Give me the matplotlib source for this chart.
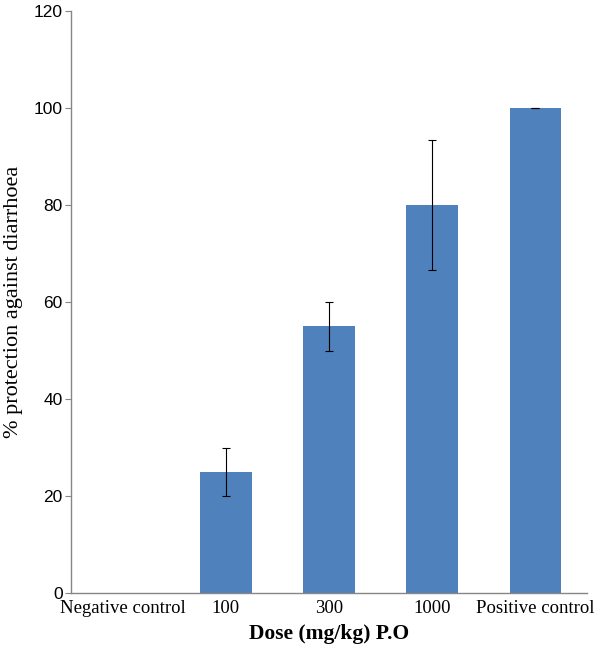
import matplotlib
matplotlib.use("Agg")
import matplotlib.pyplot as plt
import numpy as np

categories = ["Negative control", "100", "300", "1000", "Positive control"]
protection = [0, 25, 55, 80, 100]
err_low = [0, 5, 5, 13.3, 0]
err_high = [0, 5, 5, 13.3, 0]

fig = plt.figure(figsize=(6.0, 6.49), dpi=100)
ax = fig.add_axes([71 / 600, 56 / 649, 516 / 600, 582 / 649])

x = np.arange(len(categories))
ax.bar(x, protection, width=0.5, color="#4F81BD", zorder=2)
ax.errorbar(x[1:], protection[1:], yerr=[err_low[1:], err_high[1:]], fmt="none",
            ecolor="black", elinewidth=0.8, capsize=3, capthick=0.8, zorder=3)

ax.set_xlim(-0.5, len(categories) - 0.5)
ax.set_ylim(0, 120)
ax.set_yticks(range(0, 121, 20))
ax.set_xticks(x)
ax.set_xticklabels(categories, family="Liberation Serif", fontsize=13.5)
for lab in ax.get_yticklabels():
    lab.set_family("Liberation Sans")
    lab.set_fontsize(12.5)

for s in ["top", "right"]:
    ax.spines[s].set_visible(False)
for s in ["left", "bottom"]:
    ax.spines[s].set_color("#868686")
    ax.spines[s].set_linewidth(1)
ax.tick_params(axis="y", length=4, color="#868686", direction="out", pad=2)
ax.tick_params(axis="x", length=0, pad=5)

ax.set_xlabel("Dose (mg/kg) P.O", family="Liberation Serif", fontsize=15.5,
              fontweight="bold")
ax.xaxis.set_label_coords(0.5, -0.053)
ax.set_ylabel("% protection against diarrhoea", family="Liberation Serif",
              fontsize=16)
ax.yaxis.set_label_coords(-0.093, 0.5)

fig.savefig("out.png", dpi=100)
